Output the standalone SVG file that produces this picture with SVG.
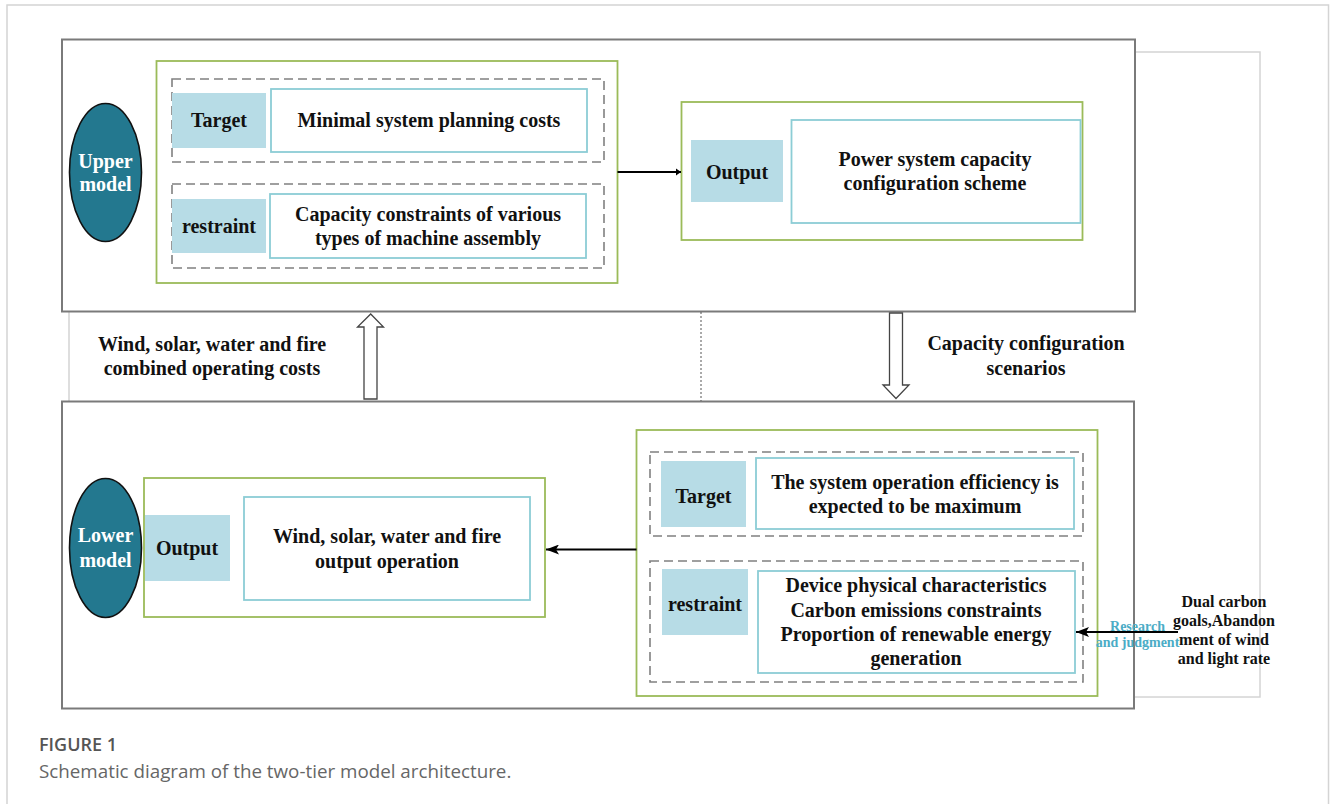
<svg xmlns="http://www.w3.org/2000/svg" width="1332" height="804" viewBox="0 0 1332 804">
<style>
.frame{fill:none;stroke:#d4d4d4;stroke-width:1.5}
.main{fill:#fff;stroke:#7a7a7a;stroke-width:2}
.green{fill:#fff;stroke:#9bbb59;stroke-width:1.8}
.dash{fill:none;stroke:#808080;stroke-width:1.6;stroke-dasharray:9 5}
.lbl{fill:#b7dce6;stroke:none}
.wbox{fill:#fff;stroke:#8ccdd5;stroke-width:1.8}
.ell{fill:#23788f;stroke:#111;stroke-width:1.6}
.t{font-family:"Liberation Serif","Times New Roman",serif;font-weight:bold;font-size:20px;fill:#111;text-anchor:middle}
.tw{font-family:"Liberation Serif","Times New Roman",serif;font-weight:bold;font-size:20px;fill:#fff;text-anchor:middle}
.ts{font-family:"Liberation Serif","Times New Roman",serif;font-weight:bold;font-size:16px;fill:#111;text-anchor:middle}
.tr{font-family:"Liberation Serif","Times New Roman",serif;font-weight:bold;font-size:14px;fill:#4bacc6;text-anchor:middle}
.hollow{fill:#fff;stroke:#444;stroke-width:1.3}
.con{fill:none;stroke:#000;stroke-width:2}
.cap1{font-family:"Open Sans","Noto Sans",sans-serif;font-weight:600;font-size:18px;fill:#555}
.cap2{font-family:"Open Sans","Noto Sans",sans-serif;font-size:18.8px;fill:#666}
</style>
<defs>
<marker id="ah" markerUnits="userSpaceOnUse" markerWidth="14" markerHeight="10" refX="13" refY="5" orient="auto">
<path d="M0,0 L13,5 L0,10 L3,5 Z" fill="#000"/>
</marker>
<marker id="ahs" markerUnits="userSpaceOnUse" markerWidth="6" markerHeight="8" refX="5" refY="4" orient="auto">
<path d="M0,0.5 L5,4 L0,7.5 Z" fill="#000"/>
</marker>
</defs>
<rect width="1332" height="804" fill="#fff"/>
<rect id="page-frame" class="frame" x="7" y="5" width="1321.5" height="830"/>
<rect id="background-frame" class="frame" x="69" y="52" width="1191" height="645"/>

<g id="upper-box">
<rect class="main" x="62" y="39.5" width="1073" height="272"/>
</g>
<g id="lower-box">
<rect class="main" x="62" y="401.5" width="1072" height="307"/>
</g>

<g id="upper-model">
<ellipse class="ell" cx="105.5" cy="172.5" rx="36" ry="69"/>
<text class="tw" x="105.5" y="168">Upper</text>
<text class="tw" x="105.5" y="191">model</text>
</g>

<g id="upper-left-group">
<rect class="green" x="156.5" y="61" width="461" height="222"/>
</g>
<g id="upper-target">
<rect class="dash" x="172" y="79" width="432" height="83"/>
<rect class="lbl" x="172" y="93" width="94" height="55"/>
<text class="t" x="219" y="127">Target</text>
<rect class="wbox" x="271" y="89" width="316" height="63"/>
<text class="t" x="429" y="127">Minimal system planning costs</text>
</g>
<g id="upper-restraint">
<rect class="dash" x="172" y="184" width="432" height="84"/>
<rect class="lbl" x="172" y="199" width="94" height="54"/>
<text class="t" x="219" y="233">restraint</text>
<rect class="wbox" x="270" y="194" width="316" height="64"/>
<text class="t" x="428" y="221">Capacity constraints of various</text>
<text class="t" x="428" y="245">types of machine assembly</text>
</g>

<g id="upper-output">
<rect class="green" x="681.5" y="102" width="401" height="138"/>
<rect class="lbl" x="691" y="140" width="92" height="62"/>
<text class="t" x="737" y="179">Output</text>
<rect class="wbox" x="791.5" y="120" width="289" height="103"/>
<text class="t" x="935" y="166">Power system capacity</text>
<text class="t" x="935" y="190">configuration scheme</text>
</g>

<g id="lower-model">
<ellipse class="ell" cx="105.5" cy="548" rx="36" ry="69.5"/>
<text class="tw" x="105.5" y="542">Lower</text>
<text class="tw" x="105.5" y="567">model</text>
</g>

<g id="lower-output">
<rect class="green" x="144" y="478" width="401" height="139"/>
<rect class="lbl" x="145" y="515" width="85" height="66"/>
<text class="t" x="187" y="555">Output</text>
<rect class="wbox" x="244" y="497" width="286" height="103"/>
<text class="t" x="387" y="542.5">Wind, solar, water and fire</text>
<text class="t" x="387" y="567.5">output operation</text>
</g>

<g id="lower-right-group">
<rect class="green" x="636.5" y="430" width="461" height="266"/>
</g>
<g id="lower-target">
<rect class="dash" x="650" y="452" width="433" height="84"/>
<rect class="lbl" x="661" y="461" width="85" height="66"/>
<text class="t" x="703.5" y="502.5">Target</text>
<rect class="wbox" x="756" y="458" width="318" height="71"/>
<text class="t" x="915" y="488.5">The system operation efficiency is</text>
<text class="t" x="915" y="513">expected to be maximum</text>
</g>
<g id="lower-restraint">
<rect class="dash" x="650" y="561" width="433" height="121"/>
<rect class="lbl" x="662" y="569" width="86" height="66"/>
<text class="t" x="705" y="611">restraint</text>
<rect class="wbox" x="758" y="571" width="317" height="102"/>
<text class="t" x="916" y="592">Device physical characteristics</text>
<text class="t" x="916" y="617">Carbon emissions constraints</text>
<text class="t" x="916" y="641">Proportion of renewable energy</text>
<text class="t" x="916" y="665">generation</text>
</g>

<g id="external-input">
<text class="ts" x="1224" y="607">Dual carbon</text>
<text class="ts" x="1224" y="626">goals,Abandon</text>
<text class="ts" x="1224" y="644.5">ment of wind</text>
<text class="ts" x="1224" y="663.5">and light rate</text>
</g>

<g id="labels">
<text class="t" x="212" y="351">Wind, solar, water and fire</text>
<text class="t" x="212" y="375">combined operating costs</text>
<text class="t" x="1026" y="350">Capacity configuration</text>
<text class="t" x="1026" y="375">scenarios</text>
</g>

<g id="connectors">
<line class="con" x1="617.5" y1="172" x2="681" y2="172" stroke-width="1.8" marker-end="url(#ahs)"/>
<line class="con" x1="636.5" y1="549.5" x2="546" y2="549.5" marker-end="url(#ah)"/>
<line class="con" x1="1178" y1="632" x2="1076" y2="632" marker-end="url(#ah)"/>
<line x1="701" y1="312" x2="701" y2="401" stroke="#555" stroke-width="1" stroke-dasharray="2 2"/>
<polygon class="hollow" points="364,399 364,327 357.5,327 370.7,314 383.5,327 377,327 377,399"/>
<polygon class="hollow" points="889.5,313 902.5,313 902.5,385 909,385 896,398.5 883,385 889.5,385"/>
<text class="tr" x="1137.5" y="630.5">Research</text>
<text class="tr" x="1137.5" y="647">and judgment</text>
</g>

<g id="caption">
<text class="cap1" x="39" y="751">FIGURE 1</text>
<text class="cap2" x="39" y="778">Schematic diagram of the two-tier model architecture.</text>
</g>
</svg>
